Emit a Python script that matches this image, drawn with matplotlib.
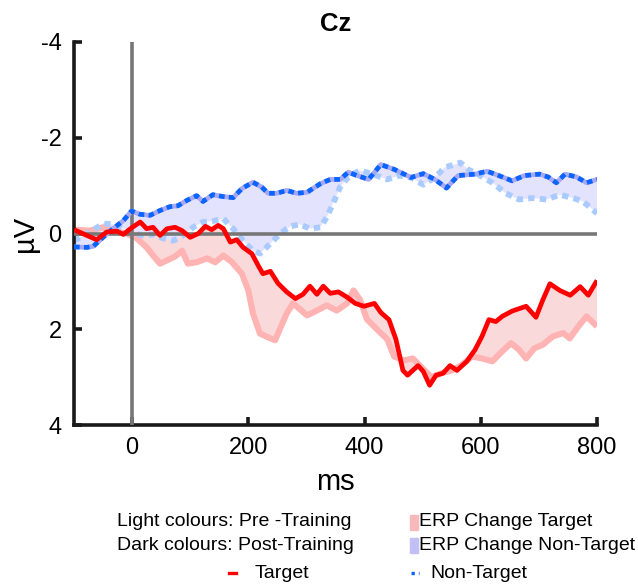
import matplotlib
matplotlib.use("Agg")
import matplotlib.pyplot as plt
from matplotlib.lines import Line2D
from matplotlib.patches import Rectangle
import numpy as np

plt.rcParams['font.family'] = ['Liberation Sans', 'DejaVu Sans']

# Target, post-training (dark red)
t_tgt_post = [-100, -78, -61, -44, -26, -15, -3, 14, 25, 36, 48, 60, 74, 86, 100, 114, 126, 137,
              148, 157, 169, 180, 191, 206, 217, 225, 238, 251, 266, 281, 294, 306, 318, 329, 341,
              355, 370, 384, 399, 417, 428, 442, 454, 466, 474, 492, 501, 512, 523, 535, 547, 559,
              576, 590, 602, 614, 626, 637, 654, 678, 695, 707, 719, 736, 754, 771, 785, 800]
v_tgt_post = [-0.08, 0.04, 0.13, -0.03, -0.05, 0.02, -0.10, -0.24, -0.10, -0.13, 0.04, -0.10, -0.13,
              -0.06, 0.08, 0.00, -0.15, -0.08, -0.17, -0.10, 0.18, 0.13, 0.29, 0.42, 0.67, 0.84, 0.79,
              1.04, 1.22, 1.36, 1.27, 1.10, 1.27, 1.10, 1.25, 1.22, 1.33, 1.46, 1.52, 1.46, 1.65, 1.80,
              2.21, 2.86, 2.96, 2.76, 2.88, 3.17, 2.96, 2.92, 2.76, 2.86, 2.67, 2.43, 2.15, 1.80, 1.84,
              1.73, 1.62, 1.52, 1.75, 1.38, 1.05, 1.19, 1.29, 1.11, 1.29, 0.98]

# Target, pre-training (light red)
t_tgt_pre = [-100, -72, -50, -33, -9, 8, 25, 36, 48, 60, 74, 86, 96, 111, 129, 143, 157, 172, 189,
             200, 208, 220, 238, 246, 266, 277, 301, 318, 335, 352, 370, 381, 392, 404, 422, 439,
             451, 468, 483, 497, 515, 532, 550, 567, 585, 602, 620, 637, 652, 666, 678, 692, 707,
             724, 742, 753, 768, 782, 800]
v_tgt_pre = [-0.08, -0.06, -0.13, -0.06, 0.00, 0.10, 0.29, 0.46, 0.63, 0.56, 0.48, 0.36, 0.63, 0.60,
             0.52, 0.60, 0.46, 0.60, 0.84, 1.19, 1.67, 2.09, 2.19, 2.23, 1.67, 1.46, 1.71, 1.61, 1.50,
             1.61, 1.46, 1.19, 1.38, 1.79, 2.01, 2.21, 2.57, 2.65, 2.61, 2.78, 3.00, 2.92, 2.86, 2.75,
             2.57, 2.61, 2.67, 2.46, 2.29, 2.43, 2.61, 2.40, 2.32, 2.15, 2.08, 2.19, 1.94, 1.73, 1.94]

# Non-target, post-training (dark blue)
t_nt_post = [-100, -78, -67, -50, -33, -15, -1, 14, 31, 48, 65, 79, 94, 111, 122, 139, 157, 174,
             189, 208, 223, 234, 249, 266, 283, 301, 324, 341, 358, 372, 387, 407, 428, 451, 480,
             501, 521, 541, 561, 590, 611, 631, 654, 675, 701, 716, 730, 745, 765, 782, 800]
v_nt_post = [0.28, 0.29, 0.27, 0.08, -0.10, -0.27, -0.47, -0.40, -0.38, -0.48, -0.56, -0.58, -0.69,
             -0.79, -0.67, -0.81, -0.77, -0.75, -0.94, -1.07, -0.97, -0.84, -0.84, -0.90, -0.84,
             -0.86, -1.04, -1.13, -1.13, -1.28, -1.21, -1.13, -1.44, -1.34, -1.17, -1.25, -1.13,
             -0.95, -1.21, -1.24, -1.30, -1.21, -1.10, -1.21, -1.24, -1.18, -1.06, -1.24, -1.18,
             -1.06, -1.13]

# Non-target, pre-training (light blue)
t_nt_pre = [-100, -72, -50, -33, -15, 2, 19, 36, 53, 71, 88, 105, 122, 139, 157, 174, 191, 208,
            220, 238, 255, 272, 289, 306, 324, 335, 346, 358, 370, 381, 392, 416, 439, 460, 480,
            501, 521, 538, 565, 578, 596, 620, 643, 666, 690, 713, 736, 759, 776, 800]
v_nt_pre = [0.15, -0.03, -0.21, -0.19, -0.10, 0.00, 0.04, 0.02, 0.10, 0.15, 0.04, -0.13, -0.24,
            -0.26, -0.31, -0.10, 0.15, 0.36, 0.42, 0.21, 0.00, -0.15, -0.19, -0.10, -0.13, -0.34,
            -0.63, -0.97, -1.15, -1.25, -1.32, -1.23, -1.13, -1.21, -1.17, -1.02, -1.17, -1.38,
            -1.48, -1.34, -1.23, -1.06, -0.84, -0.71, -0.74, -0.71, -0.81, -0.74, -0.67, -0.42]

x_ticks = [0, 200, 400, 600, 800]
y_ticks = [-4, -2, 0, 2, 4]

fig = plt.figure(figsize=(6.38, 5.84), dpi=100)
ax = fig.add_axes([74 / 638, 1 - 425 / 584, 523 / 638, 383 / 584])

# shaded change between pre and post
ax.fill(np.concatenate([t_tgt_pre, t_tgt_post[::-1]]),
        np.concatenate([v_tgt_pre, v_tgt_post[::-1]]),
        facecolor='#fad9da', edgecolor='none', zorder=1)
ax.fill(np.concatenate([t_nt_pre, t_nt_post[::-1]]),
        np.concatenate([v_nt_pre, v_nt_post[::-1]]),
        facecolor='#e3e3fd', edgecolor='none', zorder=1)

ax.plot(t_tgt_pre, v_tgt_pre, color='#ffb3b3', lw=4.4, solid_joinstyle='round',
        solid_capstyle='butt', zorder=2)
ax.plot(t_nt_pre, v_nt_pre, color='#aacbff', lw=4.2, ls=(0, (1.1, 0.9)), zorder=2)

ax.axhline(0, color='#777777', lw=2.6, zorder=3)
ax.axvline(0, color='#777777', lw=2.6, zorder=3)

ax.plot(t_nt_post, v_nt_post, color='#a8a8f2', lw=3.4, zorder=4)
ax.plot(t_nt_post, v_nt_post, color='#0a64ff', lw=3.4, ls=(0, (1.2, 0.9)), zorder=5)
ax.plot(t_tgt_post, v_tgt_post, color='#ff0000', lw=3.4, solid_joinstyle='round',
        solid_capstyle='butt', zorder=5)

ax.set_xlim(-100, 800)
ax.set_ylim(4, -4)
ax.set_xticks(x_ticks)
ax.set_yticks(y_ticks)
ax.set_yticklabels([str(v) for v in y_ticks])
for s in ['top', 'right']:
    ax.spines[s].set_visible(False)
for s in ['left', 'bottom']:
    ax.spines[s].set_linewidth(2.6)
    ax.spines[s].set_color('#1a1a1a')
ax.tick_params(direction='in', length=6, width=2.6, labelsize=17, color='#1a1a1a', pad=9)
ax.set_xlabel('ms', fontsize=21, labelpad=6)
ax.set_ylabel('µV', fontsize=21, labelpad=1)
ax.set_title('Cz', fontsize=18.5, fontweight='bold', pad=8)

# legend block under the axes
fs = 14
fig.text(117 / 638, 1 - 522 / 584, 'Light colours: Pre -Training', fontsize=fs, va='center')
fig.text(117 / 638, 1 - 545 / 584, 'Dark colours: Post-Training', fontsize=fs, va='center')
fig.add_artist(Rectangle((410 / 638, 1 - 530 / 584), 8 / 638, 15 / 584,
                         transform=fig.transFigure, color='#f7b9b9'))
fig.add_artist(Rectangle((410 / 638, 1 - 553 / 584), 8 / 638, 15 / 584,
                         transform=fig.transFigure, color='#c0c0f6'))
fig.text(419 / 638, 1 - 522 / 584, 'ERP Change Target', fontsize=fs, va='center')
fig.text(419 / 638, 1 - 545 / 584, 'ERP Change Non-Target', fontsize=fs, va='center')
fig.add_artist(Line2D([229 / 638, 236 / 638], [1 - 573 / 584] * 2,
                      transform=fig.transFigure, color='#ff0000', lw=2.4))
fig.add_artist(Line2D([411 / 638, 419 / 638], [1 - 573 / 584] * 2,
                      transform=fig.transFigure, color='#0a64ff', lw=2.4, ls=(0, (1, 1.2))))
fig.text(255 / 638, 1 - 573 / 584, 'Target', fontsize=fs, va='center')
fig.text(430 / 638, 1 - 573 / 584, 'Non-Target', fontsize=fs, va='center')

fig.savefig('out.png', dpi=100)
